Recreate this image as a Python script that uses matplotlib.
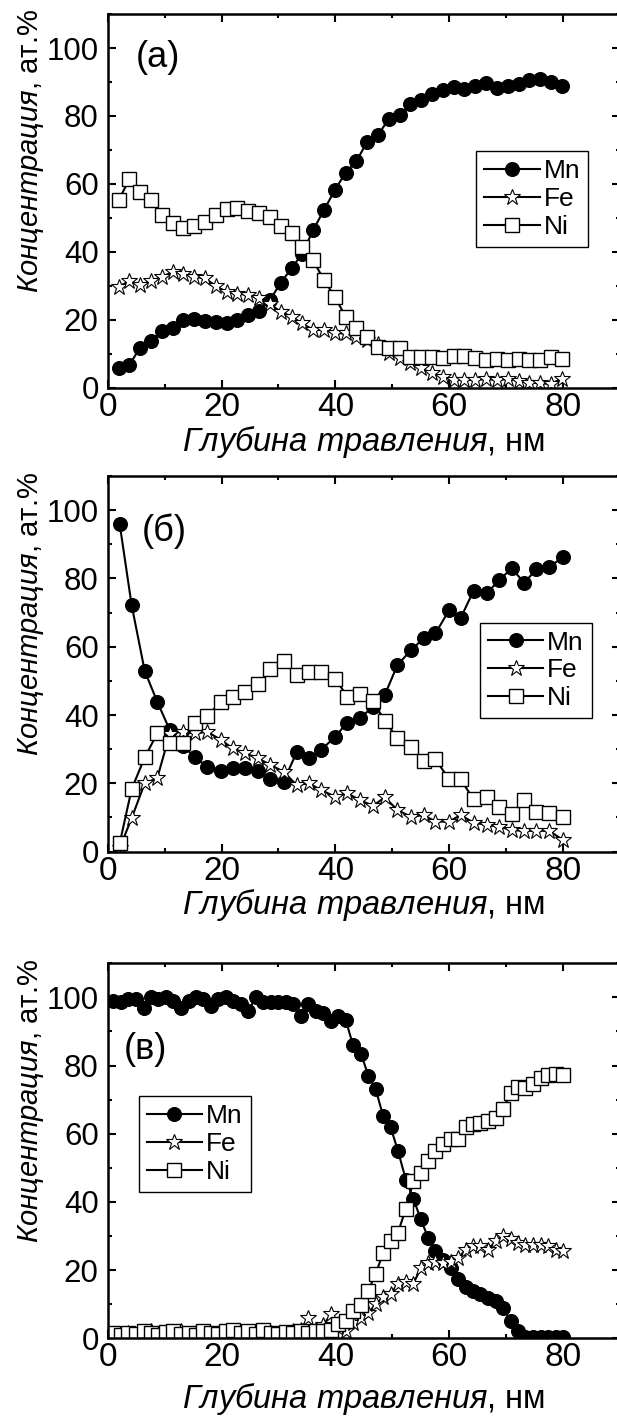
import numpy as np
import matplotlib
matplotlib.use("Agg")
import matplotlib.pyplot as plt
from matplotlib.ticker import MultipleLocator

plt.rcParams['font.family'] = ['Liberation Sans', 'DejaVu Sans']
plt.rcParams['mathtext.fontset'] = 'custom'
plt.rcParams['mathtext.it'] = 'Liberation Sans:italic'
plt.rcParams['mathtext.rm'] = 'Liberation Sans'

# --- panel (а) ---
depth_a = [1.9, 3.8, 5.7, 7.6, 9.5, 11.4, 13.3, 15.2, 17.1, 19.0, 20.9, 22.8, 24.7, 26.6,
           28.5, 30.4, 32.3, 34.2, 36.1, 38.0, 39.9, 41.8, 43.7, 45.6, 47.5, 49.4, 51.3, 53.2,
           55.1, 57.0, 58.9, 60.8, 62.7, 64.6, 66.5, 68.4, 70.3, 72.2, 74.1, 76.0, 77.9, 79.8]
mn_a = [5.9, 6.7, 11.8, 13.8, 16.8, 17.5, 19.9, 20.2, 19.7, 19.4, 18.9, 19.9, 21.4, 22.5,
        25.8, 30.9, 35.1, 39.5, 46.4, 52.3, 58.1, 63.3, 66.7, 72.4, 74.3, 79.2, 80.2, 83.6,
        84.8, 86.4, 87.7, 88.5, 88.0, 88.8, 89.7, 88.3, 88.7, 89.5, 90.5, 91.0, 90.0, 88.7]
fe_a = [29.7, 31.4, 30.2, 31.4, 32.6, 34.1, 33.6, 32.6, 32.2, 29.9, 28.2, 27.7, 27.3, 26.3,
        24.6, 22.4, 20.9, 18.9, 17.0, 17.0, 16.0, 16.0, 15.0, 14.0, 13.0, 10.1, 8.6, 7.2,
        5.7, 4.2, 3.2, 2.3, 2.3, 2.3, 2.5, 2.3, 2.5, 2.1, 1.5, 1.3, 1.1, 2.7]
ni_a = [55.2, 61.3, 57.6, 55.2, 50.8, 48.5, 46.9, 47.5, 48.8, 50.8, 52.7, 53.0, 52.1, 51.3,
        50.3, 47.5, 45.4, 41.5, 37.5, 31.7, 26.8, 20.9, 17.5, 15.0, 12.1, 11.6, 11.6, 9.1,
        9.1, 9.1, 8.8, 9.3, 9.3, 8.6, 8.1, 8.4, 8.1, 8.3, 8.1, 8.1, 9.1, 8.4]

# --- panel (б) ---
depth_b = [2.1, 4.2, 6.5, 8.7, 10.9, 13.2, 15.3, 17.5, 19.9, 22.0, 24.2, 26.4, 28.6, 30.9,
           33.2, 35.4, 37.5, 40.0, 42.1, 44.3, 46.6, 48.7, 50.9, 53.3, 55.5, 57.6, 60.0, 62.0,
           64.3, 66.6, 68.8, 71.0, 73.2, 75.3, 77.6, 80.0]
mn_b = [95.9, 72.2, 52.9, 43.9, 35.6, 31.0, 27.6, 24.9, 23.6, 24.4, 24.4, 23.6, 21.2, 20.5,
        29.1, 27.3, 29.8, 33.7, 37.8, 39.0, 42.4, 45.9, 54.6, 59.0, 62.4, 63.9, 70.7, 68.3,
        76.4, 75.6, 79.5, 82.9, 78.7, 82.6, 83.2, 86.3]
fe_b = [1.0, 9.8, 20.0, 21.5, 34.5, 35.1, 34.6, 35.1, 32.7, 30.2, 28.8, 27.3, 25.4, 23.4,
        19.5, 20.0, 18.0, 16.1, 17.1, 15.1, 13.4, 15.9, 12.2, 10.2, 10.7, 8.8, 8.8, 10.7,
        8.5, 7.8, 7.3, 6.3, 6.1, 6.1, 6.1, 3.4]
ni_b = [2.4, 18.3, 27.6, 34.6, 31.7, 31.7, 37.6, 39.7, 43.9, 45.2, 46.6, 49.1, 53.4, 55.9,
        51.7, 52.7, 52.7, 50.6, 45.4, 46.1, 44.1, 38.3, 33.2, 30.7, 26.5, 27.0, 21.2, 21.2,
        15.3, 16.1, 13.0, 10.9, 15.1, 11.7, 11.2, 10.2]

# --- panel (в) ---
depth_c = [1.0, 2.3, 3.6, 4.9, 6.3, 7.6, 8.9, 10.2, 11.5, 12.8, 14.2, 15.5, 16.8, 18.1,
           19.4, 20.8, 22.1, 23.4, 24.7, 26.0, 27.3, 28.7, 30.0, 31.3, 32.6, 33.9, 35.2, 36.6,
           37.9, 39.2, 40.5, 41.8, 43.1, 44.5, 45.8, 47.1, 48.4, 49.7, 51.0, 52.4, 53.7, 55.0,
           56.3, 57.6, 58.9, 60.3, 61.6, 62.9, 64.2, 65.5, 66.8, 68.2, 69.5, 70.8, 72.1, 73.4,
           74.7, 76.1, 77.4, 78.7, 80.0]
mn_c = [99.0, 98.5, 99.5, 99.5, 97.0, 100.0, 99.5, 100.0, 99.0, 97.0, 99.0, 100.0, 99.5, 97.5,
        99.5, 100.0, 99.0, 98.0, 96.0, 100.0, 98.5, 98.5, 98.5, 98.5, 98.0, 94.5, 98.0, 96.0,
        95.5, 93.0, 94.5, 93.5, 86.0, 83.5, 77.0, 73.0, 65.2, 62.0, 55.0, 46.5, 41.0, 35.0,
        29.5, 25.5, 23.0, 20.5, 17.5, 15.0, 14.0, 13.0, 11.8, 10.8, 9.0, 5.0, 2.0, 0.5,
        0.5, 0.5, 0.5, 0.5, 0.5]
fe_c = [1.0, 0.8, 1.5, 1.0, 0.8, 2.0, 1.0, 0.8, 1.2, 2.0, 1.0, 0.8, 1.5, 1.0,
        0.8, 1.2, 1.5, 0.8, 1.0, 2.0, 1.0, 1.5, 0.8, 1.2, 2.0, 2.5, 6.0, 2.5,
        4.0, 7.0, 3.0, 2.0, 4.5, 6.0, 7.5, 10.0, 12.0, 13.0, 16.0, 16.5, 16.0, 20.5,
        22.0, 22.5, 22.0, 22.5, 23.5, 26.0, 27.0, 27.0, 26.0, 28.5, 30.0, 29.0, 28.0, 27.5,
        27.5, 27.5, 27.0, 26.0, 25.5]
ni_c = [1.5, 1.0, 1.5, 1.2, 2.0, 1.5, 1.0, 1.8, 2.0, 1.2, 1.5, 1.0, 2.0, 1.5,
        1.2, 2.2, 2.5, 1.5, 2.0, 1.2, 2.5, 1.5, 1.2, 1.8, 1.5, 2.0, 1.5, 2.0,
        2.2, 2.5, 4.2, 5.0, 8.0, 9.8, 14.0, 19.0, 25.0, 28.5, 31.0, 38.0, 46.0, 48.5,
        52.0, 55.0, 57.0, 58.5, 58.5, 62.0, 62.8, 63.2, 63.7, 64.7, 67.3, 72.0, 73.7, 73.5,
        74.5, 76.3, 77.2, 77.5, 77.2]

panels = [
    ("(а)", depth_a, mn_a, fe_a, ni_a),
    ("(б)", depth_b, mn_b, fe_b, ni_b),
    ("(в)", depth_c, mn_c, fe_c, ni_c),
]
# положение осей в долях рисунка: left, bottom, width, height
ax_pos = [
    [0.1746, 0.7266, 0.830, 0.2635],
    [0.1746, 0.3994, 0.830, 0.2650],
    [0.1746, 0.0562, 0.830, 0.2645],
]
letter_pos = [(0.055, 0.885), (0.067, 0.854), (0.031, 0.771)]
legend_pos = [(0.720, 0.633), (0.727, 0.6095), (0.0605, 0.646)]
xlabel_y = [-0.096, -0.094, -0.115]

fig = plt.figure(figsize=(6.17, 14.18), dpi=100)

for i, (letter, x, mn, fe, ni) in enumerate(panels):
    ax = fig.add_axes(ax_pos[i])
    ax.plot(x, mn, "-o", color="black", lw=1.5, ms=10, mfc="black", mec="black", mew=0.8, label="Mn")
    ax.plot(x, fe, "-*", color="black", lw=1.5, ms=12, mfc="white", mec="black", mew=0.8, label="Fe")
    ax.plot(x, ni, "-s", color="black", lw=1.5, ms=9.5, mfc="white", mec="black", mew=1.0, label="Ni")

    ax.set_xlim(0, 90)
    ax.set_ylim(0, 110)
    ax.xaxis.set_major_locator(MultipleLocator(20))
    ax.xaxis.set_minor_locator(MultipleLocator(10))
    ax.yaxis.set_major_locator(MultipleLocator(20))
    ax.yaxis.set_minor_locator(MultipleLocator(10))
    ax.tick_params(which="both", direction="in", top=True, right=True, width=1.5)
    ax.tick_params(which="major", length=6)
    ax.tick_params(which="minor", length=3)
    ax.tick_params(axis="x", which="major", pad=3, labelsize=24)
    ax.tick_params(axis="y", which="major", pad=6.5, labelsize=22.5)
    for s in ax.spines.values():
        s.set_linewidth(1.8)

    ax.set_xlabel(r"$\mathit{Глубина\ травления}$, нм", fontsize=23.5)
    ax.xaxis.set_label_coords(0.5, xlabel_y[i])
    ax.set_ylabel(r"$\mathit{Концентрация}$, ат.%", fontsize=21)
    ax.yaxis.set_label_coords(-0.121, 0.633)

    ax.text(letter_pos[i][0], letter_pos[i][1], letter, transform=ax.transAxes,
            fontsize=26, ha="left", va="center")

    leg = ax.legend(loc="upper left", bbox_to_anchor=legend_pos[i], fontsize=19,
                    frameon=True, fancybox=False, edgecolor="black", framealpha=1,
                    handlelength=2.1, handletextpad=0.15, labelspacing=0.15,
                    borderpad=0.3, borderaxespad=0)
    leg.get_frame().set_linewidth(1.0)

fig.savefig("out.png", dpi=100)
